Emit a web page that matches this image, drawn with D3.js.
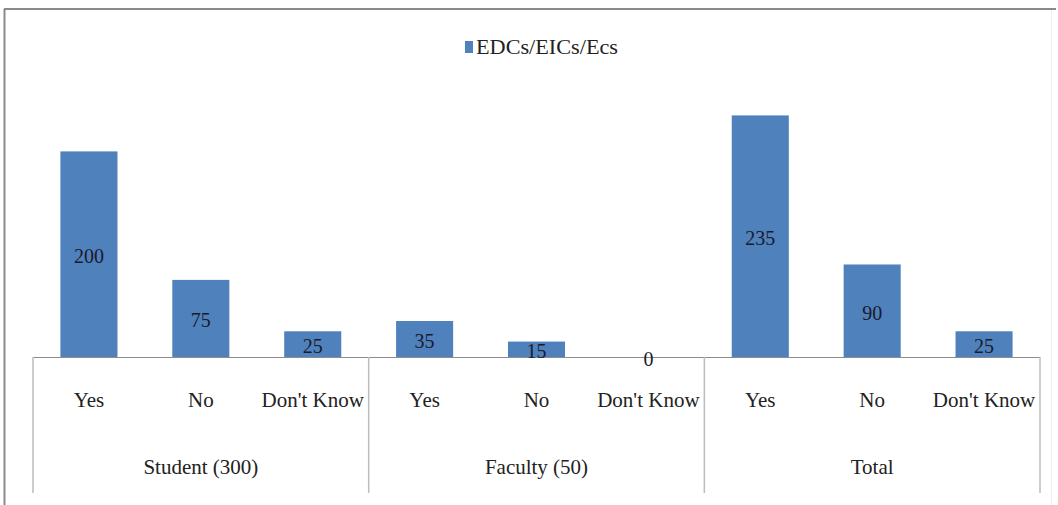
<!DOCTYPE html>
<html>
<head>
<meta charset="utf-8">
<script src="https://cdn.jsdelivr.net/npm/d3@7"></script>
<style>
  html, body { margin: 0; padding: 0; background: #fff; }
  svg { display: block; }
</style>
</head>
<body>
<svg id="chart" width="1058" height="505"></svg>
<script>
const groups = ["Student (300)", "Faculty (50)", "Total"];
const responses = ["Yes", "No", "Don't Know"];
const seriesName = "EDCs/EICs/Ecs";
const values = [200, 75, 25, 35, 15, 0, 235, 90, 25];
const yMax = 250;

(function () {
const svg = d3.select("#chart");
const FONT = "'Liberation Serif', 'Times New Roman', Tinos, serif";
const W = 1058, H = 505;
const plotLeft = 33, plotRight = 1040, base = 357, plotTop = 100;
const barColor = "#4F81BD";

// outer chart border
svg.append("line").attr("x1", 4.5).attr("x2", 4.5).attr("y1", 9).attr("y2", H)
  .attr("stroke", "#8a8a8a").attr("stroke-width", 2);
svg.append("line").attr("x1", 4).attr("x2", 1056).attr("y1", 9).attr("y2", 9)
  .attr("stroke", "#8a8a8a").attr("stroke-width", 2);
svg.append("line").attr("x1", 1051.5).attr("x2", 1051.5).attr("y1", 10).attr("y2", H)
  .attr("stroke", "#efefef").attr("stroke-width", 1);

const data = values.map((v, i) => ({
  key: i,
  group: groups[Math.floor(i / responses.length)],
  resp: responses[i % responses.length],
  value: v
}));

const x = d3.scaleBand().domain(data.map(d => d.key)).range([plotLeft, plotRight])
  .paddingInner(0.49).paddingOuter(0.245);
const y = d3.scaleLinear().domain([0, yMax]).range([base, plotTop]);

// bars
svg.append("g").selectAll("rect").data(data).join("rect")
  .attr("x", d => x(d.key))
  .attr("y", d => y(d.value))
  .attr("width", x.bandwidth())
  .attr("height", d => y(0) - y(d.value))
  .attr("fill", barColor);

// baseline
svg.append("line").attr("x1", plotLeft).attr("x2", plotRight).attr("y1", base + 0.5).attr("y2", base + 0.5)
  .attr("stroke", "#8c8c8c").attr("stroke-width", 1);

// data labels (centered)
svg.append("g").selectAll("text").data(data).join("text")
  .attr("x", d => x(d.key) + x.bandwidth() / 2)
  .attr("y", d => (y(d.value) + y(0)) / 2 + 2)
  .attr("dy", "0.35em")
  .attr("text-anchor", "middle")
  .style("font-family", FONT)
  .attr("font-size", 20)
  .attr("fill", "#1a1a2a")
  .text(d => d.value);

// category labels
svg.append("g").selectAll("text").data(data).join("text")
  .attr("x", d => x(d.key) + x.bandwidth() / 2)
  .attr("y", 407)
  .attr("text-anchor", "middle")
  .style("font-family", FONT)
  .attr("font-size", 21)
  .attr("fill", "#222")
  .text(d => d.resp);

// group separators
const groupScale = d3.scaleBand().domain(groups).range([plotLeft, plotRight]);
const seps = [plotLeft].concat(groups.map(g => groupScale(g) + groupScale.bandwidth()));
svg.append("g").selectAll("line").data(seps).join("line")
  .attr("x1", d => d).attr("x2", d => d)
  .attr("y1", base).attr("y2", 493)
  .attr("stroke", "#bdbdbd").attr("stroke-width", 1.5);

// group labels
svg.append("g").selectAll("text").data(groups).join("text")
  .attr("x", d => groupScale(d) + groupScale.bandwidth() / 2)
  .attr("y", 474)
  .attr("text-anchor", "middle")
  .style("font-family", FONT)
  .attr("font-size", 21)
  .attr("fill", "#222")
  .text(d => d);

// legend
const lg = svg.append("g");
lg.append("rect").attr("x", 465).attr("y", 41).attr("width", 8).attr("height", 12).attr("fill", barColor);
lg.append("text").attr("x", 476).attr("y", 54).style("font-family", FONT).attr("font-size", 21).attr("fill", "#222")
  .attr("textLength", 142).attr("lengthAdjust", "spacingAndGlyphs")
  .text(seriesName);
})();
</script>
</body>
</html>
